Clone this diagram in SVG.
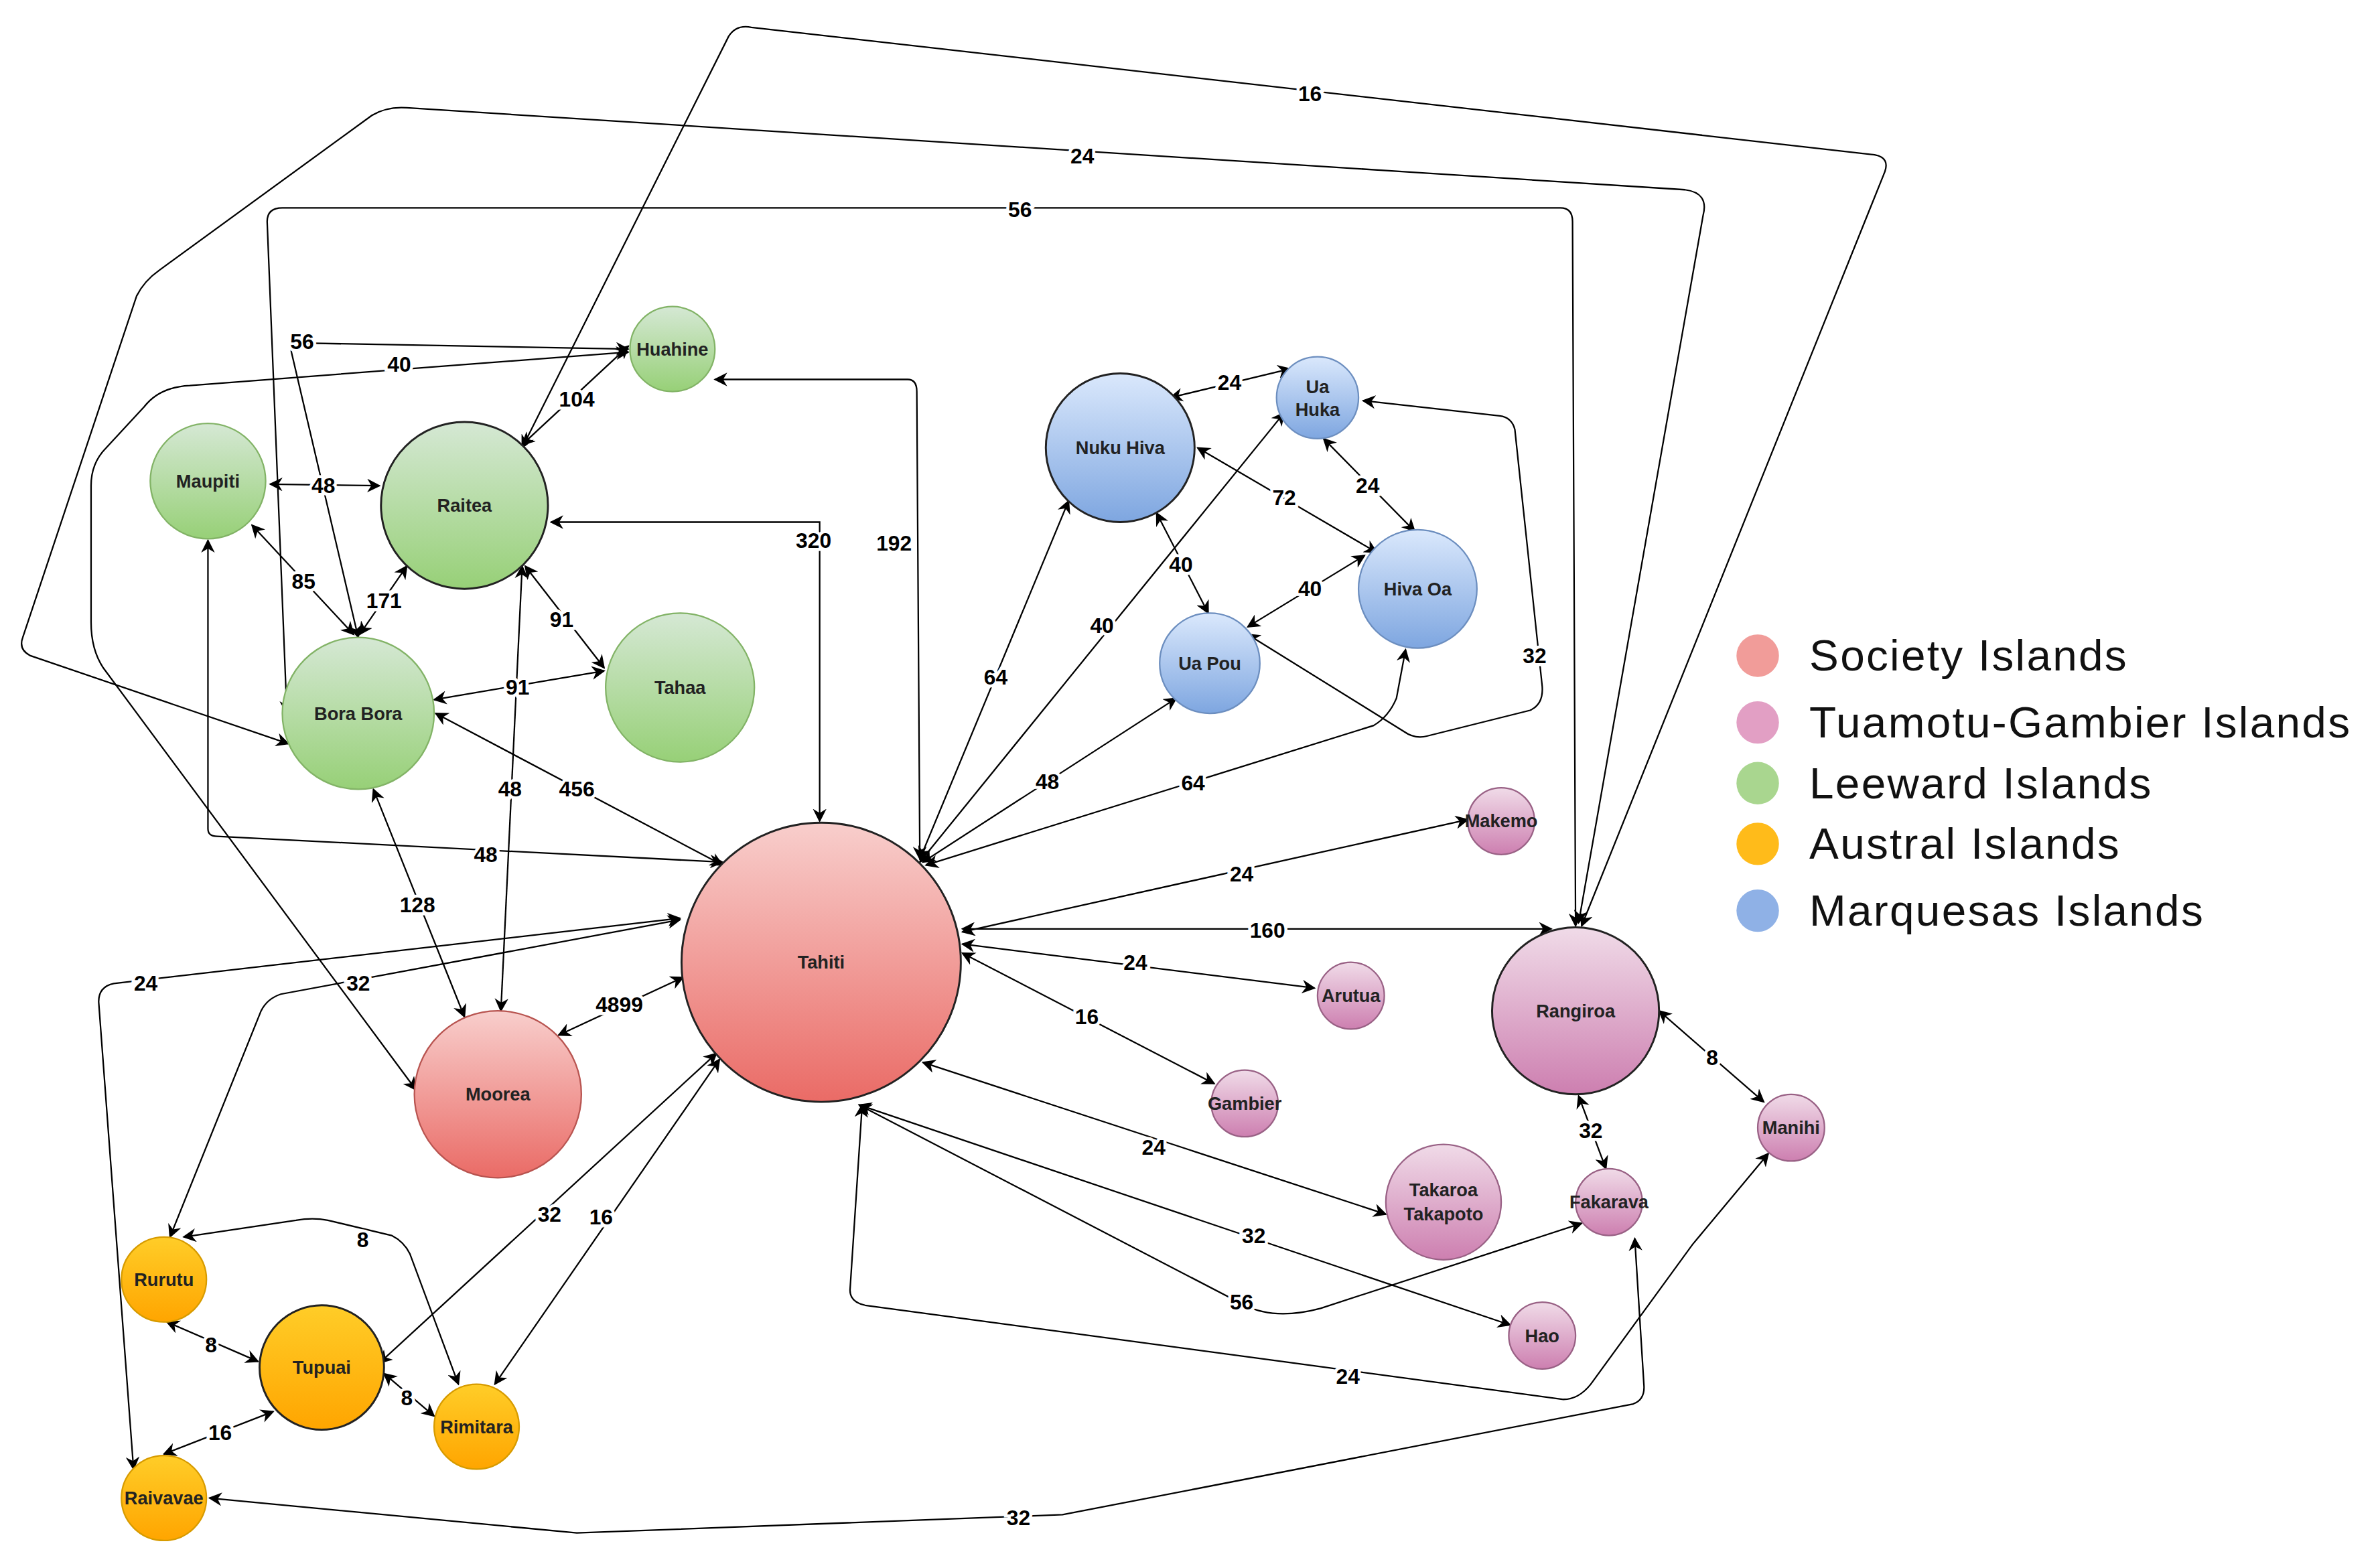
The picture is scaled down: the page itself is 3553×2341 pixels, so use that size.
<svg xmlns="http://www.w3.org/2000/svg" width="3553" height="2341" viewBox="0 0 3553 2341">
<defs>
<marker id="a" viewBox="0 0 10 10" refX="9" refY="5" markerWidth="9" markerHeight="9" orient="auto-start-reverse" markerUnits="userSpaceOnUse"><path d="M0,0 L10,5 L0,10 L3,5 Z" fill="#000"/></marker>
<linearGradient id="gr" x1="0" y1="0" x2="0" y2="1"><stop offset="0" stop-color="#f8cecc"/><stop offset="1" stop-color="#ea6b66"/></linearGradient>
<linearGradient id="gg" x1="0" y1="0" x2="0" y2="1"><stop offset="0" stop-color="#d5e8d4"/><stop offset="1" stop-color="#97d077"/></linearGradient>
<linearGradient id="gb" x1="0" y1="0" x2="0" y2="1"><stop offset="0" stop-color="#dae8fc"/><stop offset="1" stop-color="#7ea6e0"/></linearGradient>
<linearGradient id="gp" x1="0" y1="0" x2="0" y2="1"><stop offset="0" stop-color="#f0dbe8"/><stop offset="1" stop-color="#cd7fb0"/></linearGradient>
<linearGradient id="go" x1="0" y1="0" x2="0" y2="1"><stop offset="0" stop-color="#ffcd28"/><stop offset="1" stop-color="#ffa500"/></linearGradient>
</defs>
<style>
.e{fill:none;stroke:#000;stroke-width:1;marker-start:url(#a);marker-end:url(#a)}
.l{font-family:"Liberation Sans",Arial,sans-serif;font-size:14px;font-weight:bold;text-anchor:middle;dominant-baseline:central;fill:#000;stroke:#fff;stroke-width:4px;paint-order:stroke}
.n{font-family:"Liberation Sans",Arial,sans-serif;font-size:12px;font-weight:bold;text-anchor:middle;dominant-baseline:central;fill:#222}
.r{fill:url(#gr);stroke:#b85450}.g{fill:url(#gg);stroke:#82b366}.b{fill:url(#gb);stroke:#6c8ebf}.p{fill:url(#gp);stroke:#996185}.o{fill:url(#go);stroke:#d79b00}
.k{stroke:#222;stroke-width:1.3}
.lg{font-family:"Liberation Sans",Arial,sans-serif;font-size:29px;letter-spacing:1px;fill:#111;dominant-baseline:central}
</style>
<rect width="3553" height="2341" fill="#fff"/>
<g transform="scale(2.266)">
<g id="connectors">
<path class="e" d="M363,344 L540,344 L540,541"/>
<path class="e" d="M471,250 L598,250 Q604,250 604,258 L606,566"/>
<path class="e" d="M287,470 L476,570"/>
<path class="e" d="M137,356 L137,546 Q137,551 143,551 L476,568"/>
<path class="e" d="M368,682 L450,644"/>
<path class="e" d="M448,606 L185,655 Q176,658 172,666 L112,815"/>
<path class="e" d="M448,605 L75,648 Q65,650 65,660 L88,968"/>
<path class="e" d="M472,694 L250,898"/>
<path class="e" d="M474,698 L326,912"/>
<path class="e" d="M606,566 L704,330"/>
<path class="e" d="M606,568 L846,272"/>
<path class="e" d="M608,568 L775,460"/>
<path class="e" d="M610,570 L905,478 Q915,472 920,460 L926,428"/>
<path class="e" d="M634,614 L967,540"/>
<path class="e" d="M634,612 L1022,612"/>
<path class="e" d="M634,622 L866,651"/>
<path class="e" d="M634,628 L800,714"/>
<path class="e" d="M608,700 L913,800"/>
<path class="e" d="M566,728 L995,873"/>
<path class="e" d="M566,728 L820,860 Q840,870 870,862 L1042,806"/>
<path class="e" d="M568,728 L560,850 Q560,858 570,860 L1030,922 Q1040,922 1048,912 L1115,820 L1165,760"/>
<path class="e" d="M138,987 L380,1010 L700,998 L1076,925 Q1084,922 1083,912 L1077,816"/>
<path class="e" d="M1093,666 L1162,726"/>
<path class="e" d="M1040,722 L1058,770"/>
<path class="e" d="M344,293 L414,228"/>
<path class="e" d="M236,420 L192,232 Q191,226 198,226 L414,230"/>
<path class="e" d="M274,718 L68,440 Q60,428 60,410 L60,320 Q60,305 70,295 L95,268 Q105,255 125,254 L414,232"/>
<path class="e" d="M178,319 L250,320"/>
<path class="e" d="M166,346 L233,418"/>
<path class="e" d="M237,418 L268,373"/>
<path class="e" d="M346,373 L398,440"/>
<path class="e" d="M286,461 L398,442"/>
<path class="e" d="M344,373 L330,666"/>
<path class="e" d="M246,520 L306,670"/>
<path class="e" d="M189,470 L176,146 Q176,137 186,137 L1028,137 Q1036,137 1036,146 L1038,610"/>
<path class="e" d="M190,490 L20,432 Q12,428 15,420 L90,195 Q95,185 105,178 L245,76 Q255,70 268,71 L1110,125 Q1126,127 1122,142 L1040,608"/>
<path class="e" d="M344,295 L480,24 Q485,16 495,18 L1235,102 Q1246,104 1241,115 L1042,610"/>
<path class="e" d="M771,262 L850,243"/>
<path class="e" d="M789,295 L907,364"/>
<path class="e" d="M762,338 L796,404"/>
<path class="e" d="M872,289 L932,350"/>
<path class="e" d="M899,366 L822,413"/>
<path class="e" d="M822,418 L925,482 Q932,487 940,485 L1008,468 Q1017,464 1016,452 L998,283 Q996,275 988,274 L898,264"/>
<path class="e" d="M121,815 L195,804 Q206,802 216,804 L258,814 Q266,818 270,826 L302,912"/>
<path class="e" d="M110,871 L170,897"/>
<path class="e" d="M253,905 L286,933"/>
<path class="e" d="M180,930 L108,958"/>
<text class="l" x="536" y="356">320</text><text class="l" x="589" y="358">192</text>
<text class="l" x="380" y="520">456</text><text class="l" x="320" y="563">48</text>
<text class="l" x="408" y="662">4899</text><text class="l" x="236" y="648">32</text>
<text class="l" x="96" y="648">24</text><text class="l" x="362" y="800">32</text>
<text class="l" x="396" y="802">16</text><text class="l" x="656" y="446">64</text>
<text class="l" x="726" y="412">40</text><text class="l" x="690" y="515">48</text>
<text class="l" x="786" y="516">64</text><text class="l" x="818" y="576">24</text>
<text class="l" x="835" y="613">160</text><text class="l" x="748" y="634">24</text>
<text class="l" x="716" y="670">16</text><text class="l" x="760" y="756">24</text>
<text class="l" x="826" y="814">32</text><text class="l" x="818" y="858">56</text>
<text class="l" x="888" y="907">24</text><text class="l" x="671" y="1000">32</text>
<text class="l" x="1128" y="697">8</text><text class="l" x="1048" y="745">32</text>
<text class="l" x="380" y="263">104</text><text class="l" x="199" y="225">56</text>
<text class="l" x="263" y="240">40</text><text class="l" x="213" y="320">48</text>
<text class="l" x="200" y="383">85</text><text class="l" x="253" y="396">171</text>
<text class="l" x="370" y="408">91</text><text class="l" x="341" y="453">91</text>
<text class="l" x="336" y="520">48</text><text class="l" x="275" y="596">128</text>
<text class="l" x="672" y="138">56</text><text class="l" x="713" y="103">24</text>
<text class="l" x="863" y="62">16</text><text class="l" x="810" y="252">24</text>
<text class="l" x="846" y="328">72</text><text class="l" x="778" y="372">40</text>
<text class="l" x="901" y="320">24</text><text class="l" x="863" y="388">40</text>
<text class="l" x="1011" y="432">32</text><text class="l" x="239" y="817">8</text>
<text class="l" x="139" y="886">8</text><text class="l" x="268" y="921">8</text>
<text class="l" x="145" y="944">16</text>
</g>
<g id="tahiti"><circle class="r k" cx="541" cy="634" r="92"/><text class="n" x="541" y="634">Tahiti</text></g>
<g id="moorea"><circle class="r" cx="328" cy="721" r="55"/><text class="n" x="328" y="721">Moorea</text></g>
<g id="huahine"><circle class="g" cx="443" cy="230" r="28"/><text class="n" x="443" y="230">Huahine</text></g>
<g id="maupiti"><circle class="g" cx="137" cy="317" r="38"/><text class="n" x="137" y="317">Maupiti</text></g>
<g id="raitea"><circle class="g k" cx="306" cy="333" r="55"/><text class="n" x="306" y="333">Raitea</text></g>
<g id="borabora"><circle class="g" cx="236" cy="470" r="50"/><text class="n" x="236" y="470">Bora Bora</text></g>
<g id="tahaa"><circle class="g" cx="448" cy="453" r="49"/><text class="n" x="448" y="453">Tahaa</text></g>
<g id="nukuhiva"><circle class="b k" cx="738" cy="295" r="49"/><text class="n" x="738" y="295">Nuku Hiva</text></g>
<g id="uahuka"><circle class="b" cx="868" cy="262" r="27"/><text class="n" x="868" y="255">Ua</text><text class="n" x="868" y="270">Huka</text></g>
<g id="hivaoa"><circle class="b" cx="934" cy="388" r="39"/><text class="n" x="934" y="388">Hiva Oa</text></g>
<g id="uapou"><circle class="b" cx="797" cy="437" r="33"/><text class="n" x="797" y="437">Ua Pou</text></g>
<g id="makemo"><circle class="p" cx="989" cy="541" r="22"/><text class="n" x="989" y="541">Makemo</text></g>
<g id="arutua"><circle class="p" cx="890" cy="656" r="22"/><text class="n" x="890" y="656">Arutua</text></g>
<g id="gambier"><circle class="p" cx="820" cy="727" r="22"/><text class="n" x="820" y="727">Gambier</text></g>
<g id="rangiroa"><circle class="p k" cx="1038" cy="666" r="55"/><text class="n" x="1038" y="666">Rangiroa</text></g>
<g id="manihi"><circle class="p" cx="1180" cy="743" r="22"/><text class="n" x="1180" y="743">Manihi</text></g>
<g id="fakarava"><circle class="p" cx="1060" cy="792" r="22"/><text class="n" x="1060" y="792">Fakarava</text></g>
<g id="takaroa"><circle class="p" cx="951" cy="792" r="38"/><text class="n" x="951" y="784">Takaroa</text><text class="n" x="951" y="800">Takapoto</text></g>
<g id="hao"><circle class="p" cx="1016" cy="880" r="22"/><text class="n" x="1016" y="880">Hao</text></g>
<g id="rurutu"><circle class="o" cx="108" cy="843" r="28"/><text class="n" x="108" y="843">Rurutu</text></g>
<g id="tupuai"><circle class="o k" cx="212" cy="901" r="41"/><text class="n" x="212" y="901">Tupuai</text></g>
<g id="rimitara"><circle class="o" cx="314" cy="940" r="28"/><text class="n" x="314" y="940">Rimitara</text></g>
<g id="raivavae"><circle class="o" cx="108" cy="987" r="28"/><text class="n" x="108" y="987">Raivavae</text></g>
<g id="legend">
<circle cx="1158" cy="432" r="14" fill="#f19c99"/><text class="lg" x="1192" y="432">Society Islands</text>
<circle cx="1158" cy="476" r="14" fill="#e29fc4"/><text class="lg" x="1192" y="476">Tuamotu-Gambier Islands</text>
<circle cx="1158" cy="516" r="14" fill="#a9d68f"/><text class="lg" x="1192" y="516">Leeward Islands</text>
<circle cx="1158" cy="556" r="14" fill="#ffbb1a"/><text class="lg" x="1192" y="556">Austral Islands</text>
<circle cx="1158" cy="600" r="14" fill="#8fb1e6"/><text class="lg" x="1192" y="600">Marquesas Islands</text>
</g>
</g>
</svg>
